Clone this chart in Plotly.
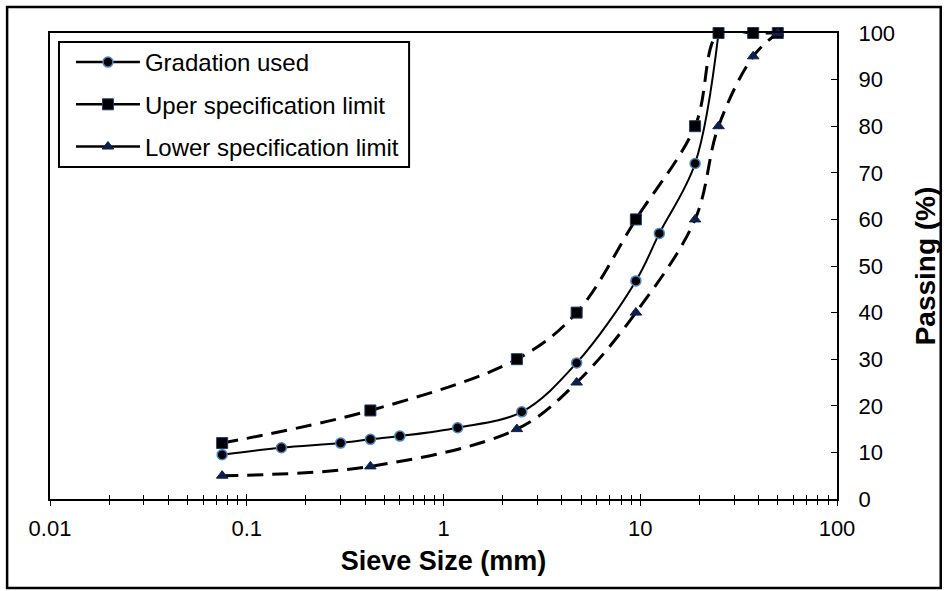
import plotly.graph_objects as go

# ---- data ----
grad_size = [0.075, 0.15, 0.3, 0.425, 0.6, 1.18, 2.5, 4.75, 9.5, 12.5, 19, 25]
grad_pass = [9.5, 11, 12, 12.8, 13.5, 15.3, 18.7, 29.2, 46.8, 57, 72, 100]

upper_size = [0.075, 0.425, 2.36, 4.75, 9.5, 19, 25, 37.5, 50]
upper_pass = [12, 19, 30, 40, 60, 80, 100, 100, 100]

lower_size = [0.075, 0.425, 2.36, 4.75, 9.5, 19, 25, 37.5, 50]
lower_pass = [5, 7, 15, 25, 40, 60, 80, 95, 100]

x_tickvals = [0.01, 0.1, 1, 10, 100]
x_ticktext = ["0.01", "0.1", "1", "10", "100"]
x_minor = [m * d for d in [0.01, 0.1, 1, 10] for m in range(2, 10)]
y_tickvals = [0, 10, 20, 30, 40, 50, 60, 70, 80, 90, 100]

names = ["Gradation used", "Uper specification limit", "Lower specification limit"]

FONT = "Liberation Sans, Arial, sans-serif"

circle_marker = dict(symbol="circle", size=10, color="#000000", line=dict(color="#4a86c6", width=1.5))
square_marker = dict(symbol="square", size=11, color="#000000", line=dict(color="#1f3a6e", width=1))
tri_marker = dict(symbol="triangle-up", size=10, color="#0d1f4d", line=dict(color="#0d1f4d", width=1))

fig = go.Figure()

fig.add_trace(go.Scatter(x=grad_size, y=grad_pass, mode="lines+markers",
                         line=dict(color="black", width=2, shape="spline", smoothing=1),
                         marker=circle_marker, showlegend=False, cliponaxis=False))
fig.add_trace(go.Scatter(x=upper_size, y=upper_pass, mode="lines+markers",
                         line=dict(color="black", width=3, dash="16px,9px", shape="spline", smoothing=1),
                         marker=square_marker, showlegend=False, cliponaxis=False))
fig.add_trace(go.Scatter(x=lower_size, y=lower_pass, mode="lines+markers",
                         line=dict(color="black", width=3, dash="16px,9px", shape="spline", smoothing=1),
                         marker=tri_marker, showlegend=False, cliponaxis=False))

# legend entries (solid sample lines as in the reference)
for i, (nm, mk) in enumerate(zip(names, [circle_marker, square_marker, tri_marker])):
    fig.add_trace(go.Scatter(x=[None], y=[None], mode="lines+markers", name=nm,
                             line=dict(color="black", width=2.5), marker=mk,
                             legendgroup=f"g{i}", showlegend=True))

# overlay axis for inward half of cross ticks
fig.add_trace(go.Scatter(x=[None], y=[None], xaxis="x2", showlegend=False))

L, R, T, B = 50, 109, 33, 92
W, H = 948, 591
pw, ph = W - L - R, H - T - B

def px_x(p):
    return (p - L) / pw

def px_y(p):
    return (H - B - p) / ph

fig.update_layout(
    width=W, height=H,
    margin=dict(l=L, r=R, t=T, b=B),
    paper_bgcolor="white", plot_bgcolor="white",
    font=dict(family=FONT, color="black", size=22),
    xaxis=dict(type="log", range=[-2, 2], tickvals=x_tickvals, ticktext=x_ticktext,
               ticks="outside", ticklen=5, tickwidth=1, tickcolor="black",
               minor=dict(tickvals=x_minor, ticks="outside", ticklen=4, tickwidth=1,
                          tickcolor="black", showgrid=False),
               showline=True, linecolor="black", linewidth=2, mirror=True,
               showgrid=False, zeroline=False, ticklabelstandoff=4,
               tickfont=dict(size=22),
               title=dict(text="<b>Sieve Size (mm)</b>", font=dict(size=27), standoff=11)),
    xaxis2=dict(type="log", range=[-2, 2], overlaying="x", matches="x",
                tickvals=x_tickvals, showticklabels=False,
                ticks="inside", ticklen=5, tickwidth=1, tickcolor="black",
                minor=dict(tickvals=x_minor, ticks="inside", ticklen=4, tickwidth=1,
                           tickcolor="black", showgrid=False),
                showline=False, showgrid=False, zeroline=False, side="bottom"),
    yaxis=dict(range=[0, 100], tickvals=y_tickvals, side="right",
               ticks="inside", ticklen=6, tickwidth=1, tickcolor="black",
               showline=True, linecolor="black", linewidth=2, mirror=True,
               showgrid=False, zeroline=False, ticklabelstandoff=15,
               tickfont=dict(size=22),
               title=dict(text="<b>Passing (%)</b>", font=dict(size=28), standoff=21)),
    legend=dict(x=px_x(71), y=px_y(40), xanchor="left", yanchor="top",
                bgcolor="rgba(0,0,0,0)", borderwidth=0,
                font=dict(size=24, family=FONT), traceorder="grouped",
                tracegroupgap=8, itemwidth=64),
    shapes=[dict(type="rect", xref="paper", yref="paper",
                 x0=px_x(7), x1=px_x(943), y0=px_y(588), y1=px_y(7),
                 line=dict(color="black", width=2.5), fillcolor="rgba(0,0,0,0)", layer="below"),
            dict(type="rect", xref="paper", yref="paper",
                 x0=px_x(59), x1=px_x(410), y0=px_y(167), y1=px_y(42),
                 line=dict(color="black", width=2), fillcolor="white", layer="below")],
)

fig.write_html("out.html")
